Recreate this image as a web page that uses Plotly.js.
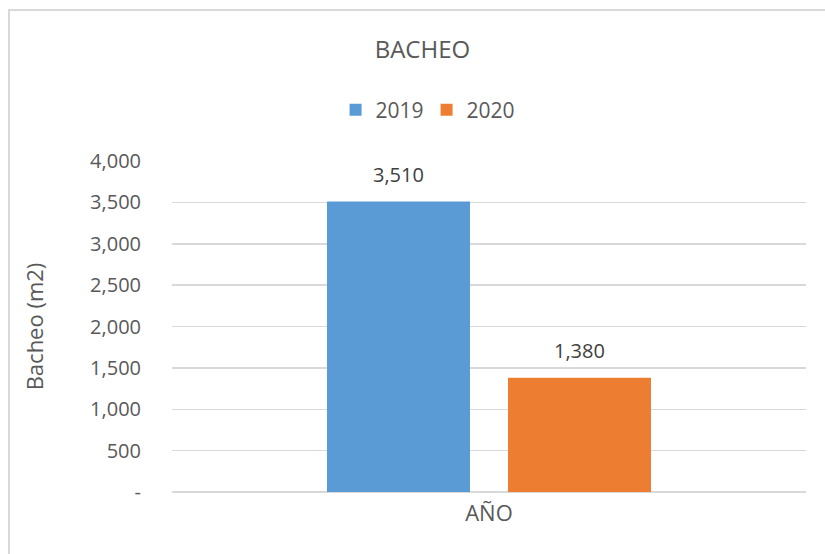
<!DOCTYPE html>
<html>
<head>
<meta charset="utf-8">
<script src="https://cdn.plot.ly/plotly-3.0.1.min.js"></script>
<style>
html,body{margin:0;padding:0;background:#fff;overflow:hidden;}
#chart{position:absolute;left:0;top:0;width:825px;height:554px;}
#frame{position:absolute;left:8px;top:9px;width:830px;height:560px;border:2px solid #d9d9d9;pointer-events:none;box-sizing:border-box;}
</style>
</head>
<body>
<div id="chart"></div>
<div id="frame"></div>
<script>
const categories = ["AÑO"];
const seriesNames = ["2019", "2020"];
const values2019 = [3510];
const values2020 = [1380];
const yTickVals = [0, 500, 1000, 1500, 2000, 2500, 3000, 3500, 4000];
const yTickText = ["-", "500", "1,000", "1,500", "2,000", "2,500", "3,000", "3,500", "4,000"];
const colors = ["#5b9bd5", "#ed7d31"];

const FONT = "Open Sans, sans-serif";
const TXT = "#595959";

const seriesValues = [values2019, values2020];
const traces = seriesNames.map((n, i) => ({
  type: "bar",
  name: n,
  x: categories,
  y: seriesValues[i],
  marker: {color: colors[i]},
  hoverinfo: "none"
}));

// data labels above bars
const annotations = [];
seriesValues.forEach((vals, i) => {
  vals.forEach((v, j) => {
    annotations.push({
      x: categories[j], y: v, xref: "x", yref: "y",
      text: v.toLocaleString("en-US"),
      showarrow: false, yanchor: "bottom",
      xshift: (i === 0 ? -1 : 1) * 90.5, yshift: 12,
      font: {family: FONT, size: 20, color: "#404040"}
    });
  });
});

const layout = {
  width: 825, height: 554,
  margin: {l: 172, r: 19, t: 161, b: 62},
  paper_bgcolor: "#ffffff", plot_bgcolor: "#ffffff",
  font: {family: FONT, color: TXT},
  title: {text: "BACHEO", x: 0.512, xanchor: "center", y: 0.91, yanchor: "middle",
          font: {family: FONT, size: 24, color: TXT}},
  showlegend: true,
  legend: {orientation: "h", x: 0.258, xanchor: "left", y: 1.154, yanchor: "middle",
           font: {family: FONT, size: 21, color: TXT}, itemwidth: 30, entrywidth: 46,
           traceorder: "normal"},
  barmode: "group", bargap: 0.429, bargroupgap: 0.21,
  xaxis: {
    type: "category", showgrid: false, showline: false, zeroline: false,
    ticks: "outside", ticklen: 2, tickcolor: "rgba(0,0,0,0)",
    tickfont: {family: FONT, size: 22, color: TXT}
  },
  yaxis: {
    range: [0, 4000], tickvals: yTickVals, ticktext: yTickText,
    showgrid: true, gridcolor: "#d9d9d9", gridwidth: 1.5,
    zeroline: true, zerolinecolor: "#d9d9d9", zerolinewidth: 1.5,
    showline: false, ticks: "outside", ticklen: 26, tickcolor: "rgba(0,0,0,0)",
    tickfont: {family: FONT, size: 20, color: TXT},
    title: {text: "Bacheo (m2)", standoff: 40, font: {family: FONT, size: 22, color: TXT}}
  },
  annotations: annotations
};

Plotly.newPlot("chart", traces, layout, {displayModeBar: false, staticPlot: true});
</script>
</body>
</html>
